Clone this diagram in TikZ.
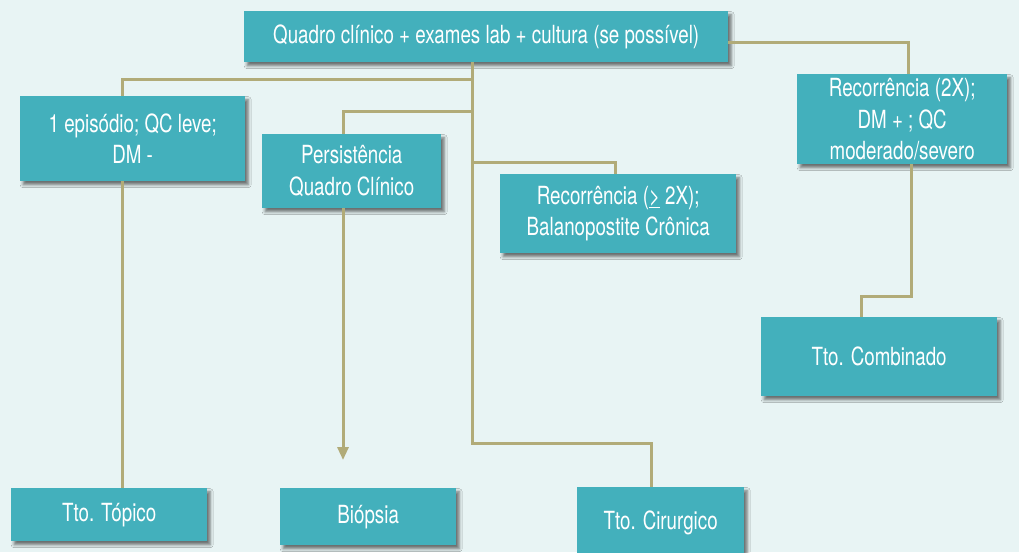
\documentclass[tikz,border=0pt]{standalone}
\usepackage{fontspec}
\setmainfont{TeX Gyre Heros}[FakeStretch=0.75]
\usetikzlibrary{shadows.blur,arrows.meta}
\definecolor{bg}{HTML}{E8F4F4}
\definecolor{boxc}{HTML}{43B0BC}
\definecolor{linec}{HTML}{B1AB78}
\begin{document}
\begin{tikzpicture}[x=1pt,y=-1pt,
  box/.style={fill=boxc, text=white, anchor=north west, inner sep=0pt, align=center,
    font=\fontsize{25}{31.5}\selectfont,
    blur shadow={shadow xshift=3pt, shadow yshift=-3.5pt, shadow blur radius=3pt, shadow opacity=55}},
  conn/.style={draw=linec, line width=3pt}]
\fill[bg] (0,0) rectangle (1019,552);
\useasboundingbox (0,0) rectangle (1019,552);
% boxes
\node[box, minimum width=484pt, minimum height=51pt] (top) at (244,11) {Quadro clínico + exames lab + cultura (se possível)};
\node[box, minimum width=225pt, minimum height=85pt] (b1) at (20,96) {1 episódio; QC leve;\\DM -};
\node[box, minimum width=179pt, minimum height=74pt] (pers) at (262,134) {Persistência\\Quadro Clínico};
\node[box, minimum width=236pt, minimum height=79pt] (rec1) at (500,174) {Recorrência (\underline{>} 2X);\\Balanopostite Crônica};
\node[box, minimum width=210pt, minimum height=90pt] (rec2) at (797,74) {Recorrência (2X);\\DM + ; QC\\moderado/severo};
\node[box, minimum width=236pt, minimum height=79pt] (comb) at (761,317) {Tto. Combinado};
\node[box, minimum width=196pt, minimum height=53pt] (topico) at (11,488) {Tto. Tópico};
\node[box, minimum width=176pt, minimum height=57pt] (bio) at (280,488) {Biópsia};
\node[box, minimum width=167pt, minimum height=72pt] (cir) at (577,487) {Tto. Cirurgico};
% bend coordinates
\coordinate (j1) at (472,79);
\coordinate (j2) at (472,111);
\coordinate (j3) at (472,162);
\coordinate (j4) at (472,443);
\coordinate (cA) at (122,0);
\coordinate (cB) at (343,0);
\coordinate (cC) at (615,0);
\coordinate (cD) at (908,0);
\coordinate (cE) at (911,0);
\coordinate (cF) at (861,0);
\coordinate (cG) at (651,0);
\coordinate (tipB) at (343,460);
\coordinate (k1) at (911,296);
% connectors
\draw[conn] (top.south -| j1) -- (j4) -| (cir.north -| cG);
\draw[conn] (j1) -| (b1.north -| cA);
\draw[conn] (b1.south -| cA) -- (topico.north -| cA);
\draw[conn] (j2) -| (pers.north -| cB);
\draw[conn, -{Triangle[width=11pt,length=13pt]}] (pers.south -| cB) -- (tipB);
\draw[conn] (j3) -| (rec1.north -| cC);
\draw[conn] ([yshift=-6pt]top.east) -| (rec2.north -| cD);
\draw[conn] (rec2.south -| cE) -- (k1) -| (comb.north -| cF);
\end{tikzpicture}
\end{document}
